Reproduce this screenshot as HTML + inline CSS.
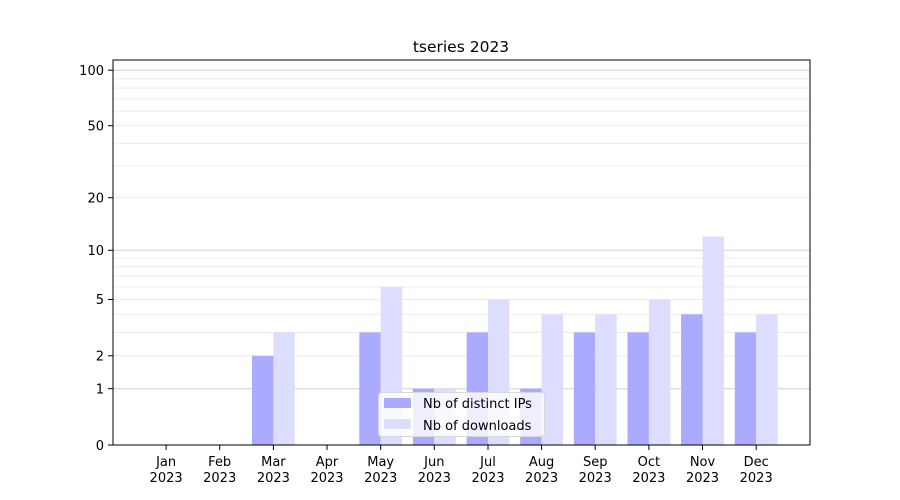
<!DOCTYPE html>
<html><head><meta charset="utf-8"><style>body{margin:0;background:#fff}svg{display:block}text{font-family:"DejaVu Sans","Liberation Sans",sans-serif;font-size:13px;fill:#000}</style></head>
<body>
<svg width="900" height="500" xmlns="http://www.w3.org/2000/svg">
<g stroke="#ececec" stroke-width="1">
<line x1="113" x2="810" y1="355.8" y2="355.8"/><line x1="113" x2="810" y1="332.4" y2="332.4"/><line x1="113" x2="810" y1="314.3" y2="314.3"/><line x1="113" x2="810" y1="299.5" y2="299.5"/><line x1="113" x2="810" y1="287" y2="287"/><line x1="113" x2="810" y1="276.1" y2="276.1"/><line x1="113" x2="810" y1="266.6" y2="266.6"/><line x1="113" x2="810" y1="258" y2="258"/>
<line x1="113" x2="810" y1="197.7" y2="197.7"/><line x1="113" x2="810" y1="166.1" y2="166.1"/><line x1="113" x2="810" y1="143.4" y2="143.4"/><line x1="113" x2="810" y1="125.7" y2="125.7"/><line x1="113" x2="810" y1="111.1" y2="111.1"/><line x1="113" x2="810" y1="98.8" y2="98.8"/><line x1="113" x2="810" y1="88.1" y2="88.1"/><line x1="113" x2="810" y1="78.7" y2="78.7"/>
</g>
<g stroke="#cfcfcf" stroke-width="1">
<line x1="113" x2="810" y1="388.7" y2="388.7"/><line x1="113" x2="810" y1="250.3" y2="250.3"/><line x1="113" x2="810" y1="70.2" y2="70.2"/>
</g>
<g fill="#aaaaff">
<rect x="252" y="355.8" width="21.4" height="89.2"/>
<rect x="359.3" y="332.4" width="21.4" height="112.6"/>
<rect x="412.9" y="388.7" width="21.4" height="56.3"/>
<rect x="466.6" y="332.4" width="21.4" height="112.6"/>
<rect x="520.2" y="388.7" width="21.4" height="56.3"/>
<rect x="573.8" y="332.4" width="21.4" height="112.6"/>
<rect x="627.5" y="332.4" width="21.4" height="112.6"/>
<rect x="681.1" y="314.3" width="21.4" height="130.7"/>
<rect x="734.8" y="332.4" width="21.4" height="112.6"/>
</g>
<g fill="#ddddff">
<rect x="273.4" y="332.4" width="21.4" height="112.6"/>
<rect x="380.7" y="287" width="21.4" height="158"/>
<rect x="434.3" y="388.7" width="21.4" height="56.3"/>
<rect x="488" y="299.5" width="21.4" height="145.5"/>
<rect x="541.6" y="314.3" width="21.4" height="130.7"/>
<rect x="595.2" y="314.3" width="21.4" height="130.7"/>
<rect x="648.9" y="299.5" width="21.4" height="145.5"/>
<rect x="702.5" y="236.7" width="21.4" height="208.3"/>
<rect x="756.2" y="314.3" width="21.4" height="130.7"/>
</g>
<rect x="378.5" y="392.5" width="166" height="44" rx="3" fill="#fff" fill-opacity="0.8" stroke="#d8d8d8"/>
<rect x="384" y="398" width="27" height="10" fill="#aaaaff"/>
<rect x="384" y="419" width="27" height="10" fill="#ddddff"/>
<text x="423" y="408">Nb of distinct IPs</text>
<text x="423" y="430">Nb of downloads</text>
<rect x="113" y="60" width="697" height="385" fill="none" stroke="#000" stroke-width="1"/>
<g stroke="#000">
<line x1="108" x2="113" y1="445" y2="445"/><line x1="108" x2="113" y1="388.7" y2="388.7"/><line x1="108" x2="113" y1="355.8" y2="355.8"/><line x1="108" x2="113" y1="299.5" y2="299.5"/><line x1="108" x2="113" y1="250.3" y2="250.3"/><line x1="108" x2="113" y1="197.7" y2="197.7"/><line x1="108" x2="113" y1="125.7" y2="125.7"/><line x1="108" x2="113" y1="70.2" y2="70.2"/>
<line x1="166.1" x2="166.1" y1="445" y2="450"/><line x1="219.7" x2="219.7" y1="445" y2="450"/><line x1="273.4" x2="273.4" y1="445" y2="450"/><line x1="327" x2="327" y1="445" y2="450"/><line x1="380.7" x2="380.7" y1="445" y2="450"/><line x1="434.3" x2="434.3" y1="445" y2="450"/><line x1="488" x2="488" y1="445" y2="450"/><line x1="541.6" x2="541.6" y1="445" y2="450"/><line x1="595.2" x2="595.2" y1="445" y2="450"/><line x1="648.9" x2="648.9" y1="445" y2="450"/><line x1="702.5" x2="702.5" y1="445" y2="450"/><line x1="756.2" x2="756.2" y1="445" y2="450"/>
</g>
<g text-anchor="end">
<text x="104" y="450">0</text><text x="104" y="393.5">1</text><text x="104" y="360.5">2</text><text x="104" y="304">5</text><text x="104" y="255">10</text><text x="104" y="202.5">20</text><text x="104" y="130.5">50</text><text x="104" y="75">100</text>
</g>
<g text-anchor="middle">
<text x="166.1" y="466">Jan</text><text x="219.7" y="466">Feb</text><text x="273.4" y="466">Mar</text><text x="327" y="466">Apr</text><text x="380.7" y="466">May</text><text x="434.3" y="466">Jun</text><text x="488" y="466">Jul</text><text x="541.6" y="466">Aug</text><text x="595.2" y="466">Sep</text><text x="648.9" y="466">Oct</text><text x="702.5" y="466">Nov</text><text x="756.2" y="466">Dec</text>
<text x="166.1" y="482">2023</text><text x="219.7" y="482">2023</text><text x="273.4" y="482">2023</text><text x="327" y="482">2023</text><text x="380.7" y="482">2023</text><text x="434.3" y="482">2023</text><text x="488" y="482">2023</text><text x="541.6" y="482">2023</text><text x="595.2" y="482">2023</text><text x="648.9" y="482">2023</text><text x="702.5" y="482">2023</text><text x="756.2" y="482">2023</text>
<text x="461" y="52" style="font-size:15.5px">tseries 2023</text>
</g>
</svg>
</body></html>
